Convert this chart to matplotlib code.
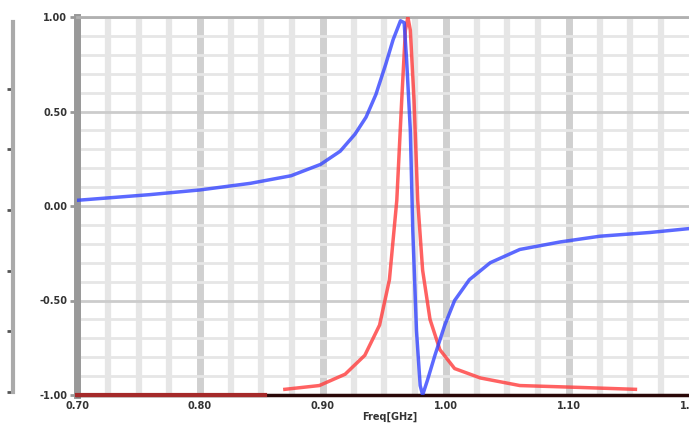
import numpy as np
import matplotlib.pyplot as plt

# values
blue_x = [0.700, 0.759, 0.800, 0.841, 0.874, 0.898, 0.914, 0.926, 0.935, 0.943,
          0.951, 0.957, 0.963, 0.966, 0.968, 0.971, 0.973, 0.976, 0.979, 0.981,
          0.985, 0.991, 0.999, 1.007, 1.019, 1.036, 1.060, 1.093, 1.125, 1.166, 1.197]
blue_y = [0.03, 0.06, 0.085, 0.12, 0.16, 0.22, 0.29, 0.38, 0.47, 0.59,
          0.75, 0.88, 0.98, 0.97, 0.77, 0.40, -0.13, -0.66, -0.95, -1.00,
          -0.92, -0.79, -0.63, -0.50, -0.39, -0.30, -0.23, -0.19, -0.16, -0.14, -0.12]

red_x = [0.869, 0.897, 0.918, 0.934, 0.946, 0.954, 0.960, 0.964, 0.967, 0.969,
         0.971, 0.974, 0.977, 0.981, 0.987, 0.995, 1.007, 1.028, 1.060, 1.109, 1.154]
red_y = [-0.97, -0.95, -0.89, -0.79, -0.63, -0.39, 0.03, 0.56, 0.93, 1.00,
         0.93, 0.56, 0.03, -0.34, -0.60, -0.76, -0.86, -0.91, -0.95, -0.96, -0.97]

base_x = [0.700, 0.853]
base_y = [-1.0, -1.0]

x_ticks = [0.70, 0.80, 0.90, 1.00, 1.10, 1.20]
x_labels = ["0.70", "0.80", "0.90", "1.00", "1.10", "1.20"]
y_ticks = [-1.0, -0.5, 0.0, 0.5, 1.0]
y_labels = ["-1.00", "-0.50", "0.00", "0.50", "1.00"]

W, H = 689, 432
fig = plt.figure(figsize=(W / 100, H / 100), dpi=100)
ax = fig.add_axes([77 / W, 37 / H, 615 / W, 378 / H])

ax.set_xlim(0.70, 1.20)
ax.set_ylim(-1.0, 1.0)

# grid
ax.set_xticks(np.arange(0.70, 1.201, 0.025), minor=True)
ax.set_yticks(np.arange(-1.0, 1.01, 0.1), minor=True)
ax.grid(True, which='minor', axis='x', color='#e6e6e6', lw=4.5, zorder=0)
ax.grid(True, which='minor', axis='y', color='#e6e6e6', lw=2, zorder=0)
ax.grid(True, which='major', axis='x', color='#d0d0d0', lw=5, zorder=0)
ax.grid(True, which='major', axis='y', color='#cccccc', lw=2, zorder=0)
ax.tick_params(which='minor', length=0)

ax.plot(base_x, base_y, color='#a52a2a', lw=3, zorder=3, clip_on=False)
ax.plot(red_x, red_y, color='#ff3b3b', lw=2.5, alpha=0.8, zorder=4)
ax.plot(blue_x, blue_y, color='#3344ff', lw=2.5, alpha=0.8, zorder=5)

ax.set_xticks(x_ticks)
ax.set_xticklabels(x_labels, fontsize=7, fontweight='bold', color='#333333')
ax.set_yticks(y_ticks)
ax.set_yticklabels(y_labels, fontsize=7, fontweight='bold', color='#333333')
ax.tick_params(axis='x', length=0, pad=4)
ax.tick_params(axis='y', length=5, width=2, color='#999999', pad=2)

ax.spines['right'].set_visible(False)
ax.spines['left'].set_color('#999999')
ax.spines['left'].set_linewidth(5)
ax.spines['top'].set_color('#b0b0b0')
ax.spines['top'].set_linewidth(2)
ax.spines['bottom'].set_color('#2a0808')
ax.spines['bottom'].set_linewidth(2.5)

ax.set_xlabel("Freq[GHz]", fontsize=7, fontweight='bold', color='#333333')
ax.xaxis.set_label_coords((390 - 77) / 615, -0.045)

# second bare axis at far left
ax2 = fig.add_axes([13 / W, 40 / H, 0.001, 370 / H])
ax2.set_xticks([])
ax2.set_ylim(0, 1)
ax2.set_yticks(np.linspace(0.0, 0.82, 6))
ax2.set_yticklabels([])
ax2.tick_params(axis='y', length=4, width=2, color='#555555')
for side in ['right', 'top', 'bottom']:
    ax2.spines[side].set_visible(False)
ax2.spines['left'].set_color('#aaaaaa')
ax2.spines['left'].set_linewidth(3)

fig.savefig("out.png", dpi=100)
